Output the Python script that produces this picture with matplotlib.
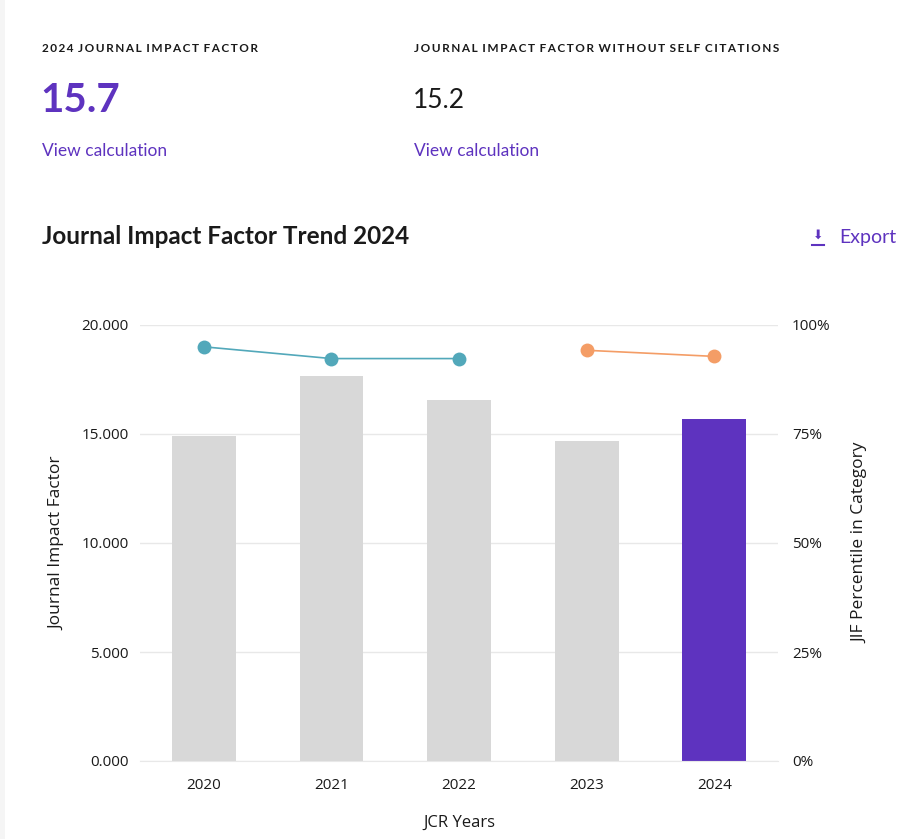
import matplotlib
matplotlib.use("Agg")
import matplotlib.pyplot as plt
from matplotlib.patches import Rectangle
from matplotlib.lines import Line2D

# ==================== DATA ====================

years = ['2020', '2021', '2022', '2023', '2024']
jif_values = [14.89, 17.66, 16.57, 14.66, 15.7]
# percentile series: first group (teal) and second group (orange)
pct_years_a = ['2020', '2021', '2022']
pct_values_a = [95.0, 92.3, 92.3]
pct_years_b = ['2023', '2024']
pct_values_b = [94.2, 92.8]

jif_2024 = '15.7'
jif_no_self = '15.2'

# ==================== STYLE ====================

PURPLE = '#5E33BF'
GRAY_BAR = '#D8D8D8'
TEAL = '#52A8BA'
ORANGE = '#F49D66'
GRID = '#E8E8E8'
DARK = '#1a1a1a'

HEAD_FONT = ['Lato', 'DejaVu Sans']
CHART_FONT = ['Open Sans', 'DejaVu Sans']

W, H = 919, 839
fig = plt.figure(figsize=(W / 100, H / 100), dpi=100)
fig.patch.set_facecolor('white')


def fx(px):
    return px / W


def fy(py):
    return 1 - py / H


def tracked(text, gap):
    """Spread letters out a bit (no letter-spacing in matplotlib)"""
    words = [gap.join(w) for w in text.split(' ')]
    return (gap * 3).join(words)


# light page edge on the left
fig.patches.append(Rectangle((0, 0), fx(5), 1, transform=fig.transFigure,
                             facecolor='#F5F5F5', edgecolor='none', zorder=0))

# ==================== HEADER ====================

fig.text(fx(42), fy(48), tracked('2024 JOURNAL IMPACT FACTOR', '\u2009'),
         family=HEAD_FONT, fontsize=8.5, fontweight='bold', color=DARK, va='center')
fig.text(fx(414), fy(48), tracked('JOURNAL IMPACT FACTOR WITHOUT SELF CITATIONS', '\u2009'),
         family=HEAD_FONT, fontsize=8.5, fontweight='bold', color=DARK, va='center')

fig.text(fx(40), fy(100), jif_2024, family=HEAD_FONT, fontsize=29,
         fontweight='bold', color=PURPLE, va='center')
fig.text(fx(413), fy(100), jif_no_self, family=HEAD_FONT, fontsize=19,
         color=DARK, va='center')

fig.text(fx(42), fy(151), 'View calculation', family=HEAD_FONT, fontsize=12.5,
         color=PURPLE, va='center')
fig.text(fx(414), fy(151), 'View calculation', family=HEAD_FONT, fontsize=12.5,
         color=PURPLE, va='center')

fig.text(fx(42), fy(237), 'Journal Impact Factor Trend 2024', family=HEAD_FONT,
         fontsize=17.5, fontweight='bold', color=DARK, va='center')

# export link with a download icon
fig.text(fx(818), fy(235), '\u2b07', family=['DejaVu Sans'], fontsize=9,
         color=PURPLE, va='center', ha='center')
fig.lines.append(Line2D([fx(812), fx(824)], [fy(245), fy(245)],
                        transform=fig.transFigure, color=PURPLE, linewidth=1.5))
fig.text(fx(839), fy(237), 'Export', family=HEAD_FONT, fontsize=14,
         color=PURPLE, va='center')

# ==================== CHART ====================

ax = fig.add_axes([fx(140), fy(761), fx(778 - 140), (761 - 325) / H])
x = list(range(len(years)))
colors = [GRAY_BAR] * (len(years) - 1) + [PURPLE]
ax.bar(x, jif_values, width=0.5, color=colors, zorder=2)

ax.set_xlim(-0.5, len(years) - 0.5)
ax.set_ylim(0, 20)
ax.set_yticks([0, 5, 10, 15, 20])
ax.set_yticklabels(['0.000', '5.000', '10.000', '15.000', '20.000'])
ax.set_xticks(x)
ax.set_xticklabels(years)
ax.grid(axis='y', color=GRID, linewidth=1, zorder=0)
for side in ['top', 'right', 'left']:
    ax.spines[side].set_visible(False)
ax.spines['bottom'].set_color(GRID)
ax.tick_params(axis='both', length=0, labelsize=11, colors=DARK)
ax.tick_params(axis='y', pad=8)
ax.tick_params(axis='x', pad=12)
for lab in ax.get_xticklabels() + ax.get_yticklabels():
    lab.set_family(CHART_FONT)

ax.set_xlabel('JCR Years', family=CHART_FONT, fontsize=12, color=DARK, labelpad=16)
ax.set_ylabel('Journal Impact Factor', family=CHART_FONT, fontsize=12.5,
              color=DARK, labelpad=12)

ax2 = ax.twinx()
ax2.set_ylim(0, 100)
ax2.set_yticks([0, 25, 50, 75, 100])
ax2.set_yticklabels(['0%', '25%', '50%', '75%', '100%'])
for side in ['top', 'right', 'left', 'bottom']:
    ax2.spines[side].set_visible(False)
ax2.tick_params(axis='y', length=0, labelsize=11, colors=DARK, pad=10)
for lab in ax2.get_yticklabels():
    lab.set_family(CHART_FONT)
ax2.set_ylabel('JIF Percentile in Category', family=CHART_FONT, fontsize=12.5,
               color=DARK, labelpad=16)

xa = [years.index(y) for y in pct_years_a]
xb = [years.index(y) for y in pct_years_b]
ax2.plot(xa, pct_values_a, color=TEAL, linewidth=1.2, marker='o',
         markersize=10, markeredgewidth=0, zorder=3)
ax2.plot(xb, pct_values_b, color=ORANGE, linewidth=1.2, marker='o',
         markersize=10, markeredgewidth=0, zorder=3)

fig.savefig('out.png', dpi=100, facecolor='white')
